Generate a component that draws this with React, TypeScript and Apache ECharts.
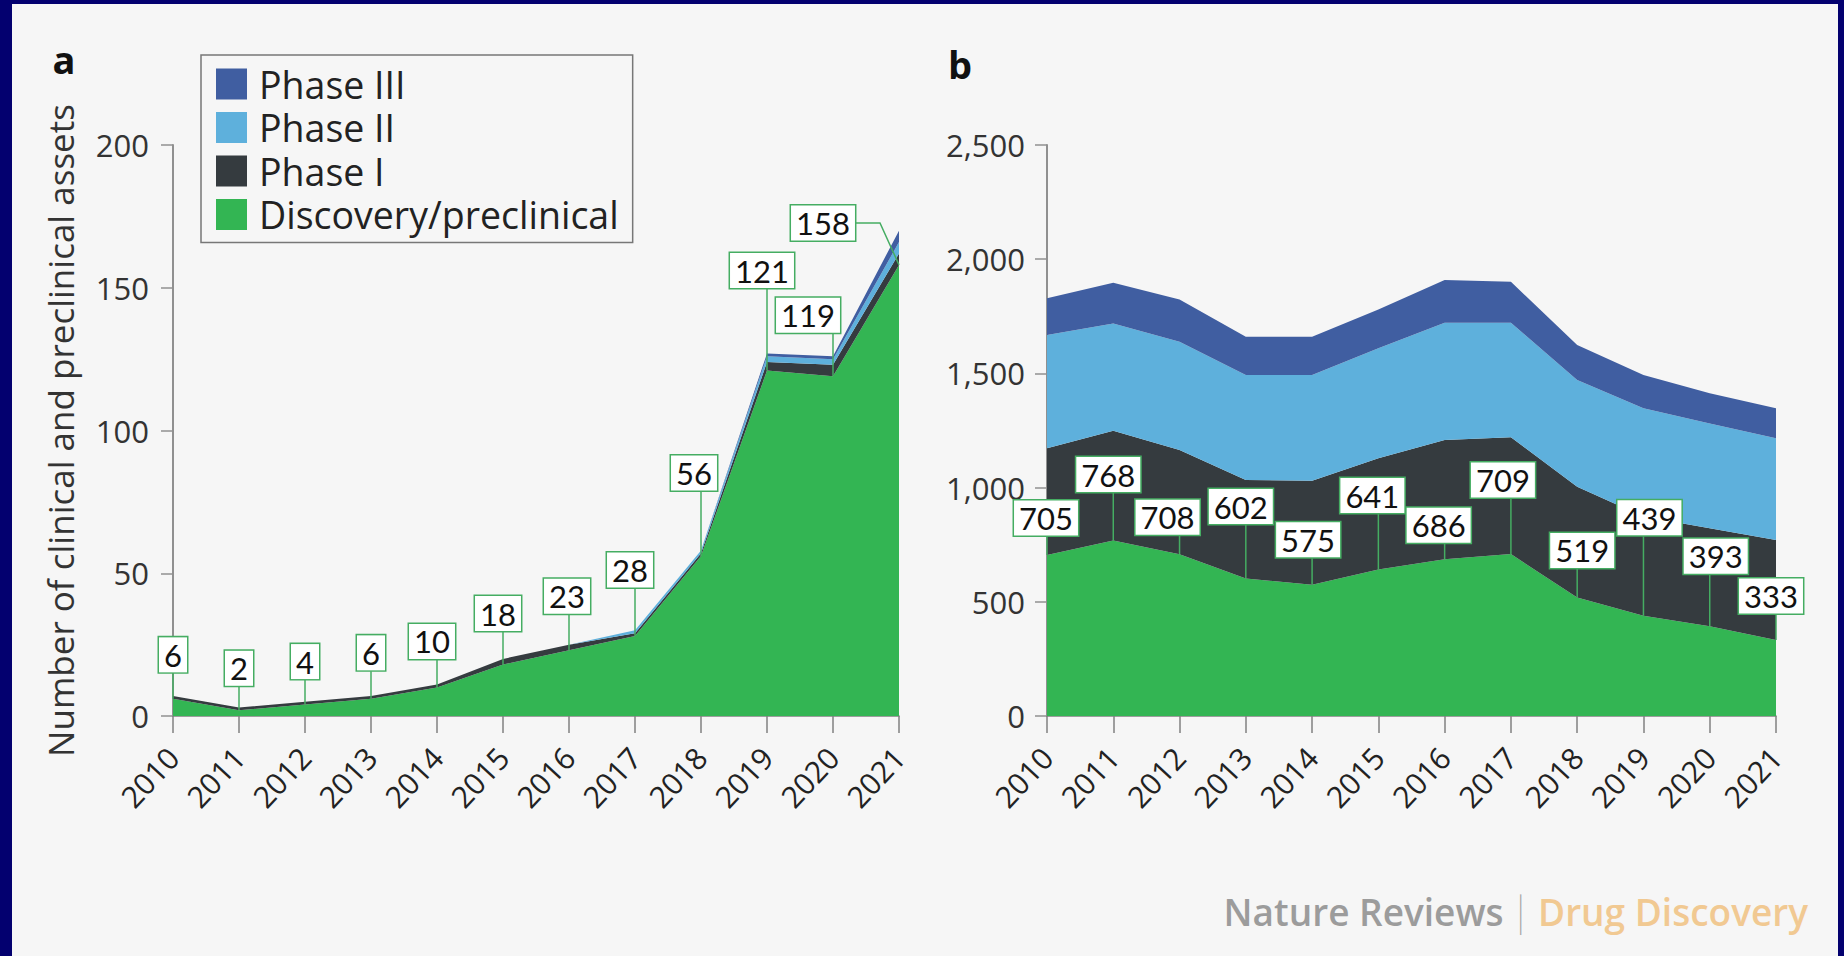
import React, { useEffect, useRef } from "react";
import * as echarts from "echarts";

const years = ["2010", "2011", "2012", "2013", "2014", "2015", "2016", "2017", "2018", "2019", "2020", "2021"];
const seriesNames = ["Discovery/preclinical", "Phase I", "Phase II", "Phase III"];

// Panel a
const aDiscovery = [6, 2, 4, 6, 10, 18, 23, 28, 56, 121, 119, 158];
const aPhase1 = [1, 1, 1, 1, 1, 2, 2, 1, 1, 3, 4, 4];
const aPhase2 = [0, 0, 0, 0, 0, 0, 0, 1, 1, 2, 2, 4];
const aPhase3 = [0, 0, 0, 0, 0, 0, 0, 0, 0, 1, 1, 4];

// Panel b
const bDiscovery = [705, 768, 708, 602, 575, 641, 686, 709, 519, 439, 393, 333];
const bPhase1 = [467, 481, 457, 431, 455, 487, 522, 511, 485, 434, 429, 438];
const bPhase2 = [496, 470, 474, 460, 463, 482, 514, 502, 467, 474, 459, 445];
const bPhase3 = [161, 178, 185, 168, 168, 170, 187, 179, 153, 146, 132, 131];

// label box placement (pixel offset of the box centre from the point)
const aLabelOffsets = [[0, -44], [0, -42], [0, -43], [0, -46], [-5, -46], [-5, -51], [-2, -54], [-5, -66], [-7, -83], [-5, -100], [-25, -61], [-76, -42]];
const bLabelOffsets = [[-1, -37], [-5, -66], [-12, -37], [-5, -72], [-4, -45], [-6, -74], [-6, -34], [-8, -74], [5, -47], [6, -98], [6, -70], [-5, -44]];

const COLORS = {
  disc: "#33b553",
  p1: "#353b3f",
  p2: "#5eb0dc",
  p3: "#405ea1",
  frame: "#03006f",
  bg: "#f6f6f6",
  leader: "#45ad62",
};

const FONT = "'Open Sans', Lato, sans-serif";
const BOXFONT = "Lato, 'Open Sans', sans-serif";

function areaSeries(name: string, data: number[], color: string, idx: number, stack: string) {
  return {
    name,
    type: "line",
    stack,
    xAxisIndex: idx,
    yAxisIndex: idx,
    data,
    symbol: "none",
    lineStyle: { width: 0 },
    areaStyle: { color, opacity: 1 },
    itemStyle: { color },
    z: 2,
  };
}

function labelSeries(idx: number, values: number[], offsets: number[][], bentIndex: number) {
  return {
    type: "custom",
    xAxisIndex: idx,
    yAxisIndex: idx,
    silent: true,
    z: 10,
    data: values.map((v, i) => [i, v]),
    renderItem: (params: any, api: any) => {
      const i = api.value(0);
      const v = api.value(1);
      const p = api.coord([i, v]);
      const off = offsets[i] || [0, -40];
      const cx = p[0] + off[0];
      const cy = p[1] + off[1];
      const txt = String(v);
      const boxW = txt.length * 17.5 + 10;
      const boxH = 37;
      let leader: any;
      if (i === bentIndex) {
        leader = {
          type: "polyline",
          shape: { points: [[cx + boxW / 2, cy], [p[0] - 19, cy], [p[0], p[1]]] },
          style: { stroke: COLORS.leader, lineWidth: 1.5, fill: null },
        };
      } else {
        leader = {
          type: "line",
          shape: { x1: p[0], y1: cy + boxH / 2, x2: p[0], y2: p[1] },
          style: { stroke: COLORS.leader, lineWidth: 1.5 },
        };
      }
      return {
        type: "group",
        children: [
          leader,
          {
            type: "text",
            x: cx,
            y: cy,
            style: {
              text: txt,
              align: "center",
              verticalAlign: "middle",
              textAlign: "center",
              textVerticalAlign: "middle",
              fontFamily: BOXFONT,
              fontSize: 31,
              fill: "#111",
              backgroundColor: "#ffffff",
              borderColor: COLORS.leader,
              borderWidth: 1.5,
              padding: [3, 5, 1, 5],
            },
          },
        ],
      };
    },
  };
}

export default function App() {
  const ref = useRef<HTMLDivElement>(null);
  useEffect(() => {
    if (!ref.current) return;
    const chart = echarts.init(ref.current, null, { renderer: "svg" });
    const xAxisBase = (gridIndex: number) => ({
      type: "category",
      gridIndex,
      data: years,
      boundaryGap: false,
      axisLine: { show: true, lineStyle: { color: "#808080", width: 1.5 } },
      axisTick: { show: true, length: 17, lineStyle: { color: "#808080", width: 1.5 } },
      axisLabel: { rotate: 47, fontSize: 30, fontFamily: FONT, color: "#222", margin: 36, interval: 0 },
    });
    const yAxisBase = (gridIndex: number, max: number, interval: number, margin: number, fmt: (v: number) => string) => ({
      type: "value",
      gridIndex,
      min: 0,
      max,
      interval,
      axisLine: { show: true, lineStyle: { color: "#909090", width: 2 } },
      axisTick: { show: true, length: 12, lineStyle: { color: "#909090", width: 1.5 } },
      axisLabel: { fontSize: 31, fontFamily: FONT, color: "#333", margin, formatter: fmt },
      splitLine: { show: false },
    });

    const option: any = {
      animation: false,
      backgroundColor: COLORS.frame,
      graphic: [
        { type: "rect", shape: { x: 12, y: 4, width: 1826, height: 960 }, style: { fill: COLORS.bg }, z: -10 },
        { type: "text", x: 64, y: 59, style: { text: "a", fontFamily: FONT, fontWeight: "bold", fontSize: 38, fill: "#111", align: "center", verticalAlign: "middle" } },
        { type: "text", x: 960, y: 64, style: { text: "b", fontFamily: FONT, fontWeight: "bold", fontSize: 38, fill: "#111", align: "center", verticalAlign: "middle" } },
        {
          type: "text",
          x: 1808,
          y: 911,
          style: {
            text: "{g|Nature Reviews} {s|\u2502} {o|Drug Discovery}",
            align: "right",
            verticalAlign: "middle",
            rich: {
              g: { fontFamily: FONT, fontWeight: 600, fontSize: 37, fill: "#9c9c9c" },
              s: { fontFamily: FONT, fontWeight: 300, fontSize: 37, fill: "#a8a8a8" },
              o: { fontFamily: FONT, fontWeight: 600, fontSize: 37, fill: "#f1c992" },
            },
          },
        },
      ],
      legend: {
        left: 201,
        top: 55,
        orient: "vertical",
        data: ["Phase III", "Phase II", "Phase I", "Discovery/preclinical"],
        icon: "rect",
        itemWidth: 31,
        itemHeight: 31,
        itemGap: 5.5,
        padding: [10, 14, 9, 15],
        borderColor: "#777",
        borderWidth: 1.5,
        backgroundColor: "rgba(0,0,0,0)",
        selectedMode: false,
        textStyle: { fontFamily: FONT, fontSize: 37.5, color: "#222", lineHeight: 35, padding: [0, 0, 0, 7] },
      },
      grid: [
        { left: 173, top: 145, width: 726, height: 571, containLabel: false },
        { left: 1047, top: 145, width: 729, height: 571, containLabel: false },
      ],
      xAxis: [xAxisBase(0), xAxisBase(1)],
      yAxis: [
        {
          ...yAxisBase(0, 200, 50, 24, (v: number) => String(v)),
          name: "Number of clinical and preclinical assets",
          nameLocation: "middle",
          nameRotate: 90,
          nameGap: 95,
          nameTextStyle: { fontFamily: FONT, fontSize: 35, color: "#333" },
        },
        yAxisBase(1, 2500, 500, 22, (v: number) => v.toLocaleString("en-US")),
      ],
      series: [
        areaSeries(seriesNames[0], aDiscovery, COLORS.disc, 0, "a"),
        areaSeries(seriesNames[1], aPhase1, COLORS.p1, 0, "a"),
        areaSeries(seriesNames[2], aPhase2, COLORS.p2, 0, "a"),
        areaSeries(seriesNames[3], aPhase3, COLORS.p3, 0, "a"),
        areaSeries(seriesNames[0], bDiscovery, COLORS.disc, 1, "b"),
        areaSeries(seriesNames[1], bPhase1, COLORS.p1, 1, "b"),
        areaSeries(seriesNames[2], bPhase2, COLORS.p2, 1, "b"),
        areaSeries(seriesNames[3], bPhase3, COLORS.p3, 1, "b"),
        labelSeries(0, aDiscovery, aLabelOffsets, 11),
        labelSeries(1, bDiscovery, bLabelOffsets, -1),
      ],
    };
    chart.setOption(option);
    return () => chart.dispose();
  }, []);
  return <div ref={ref} style={{ position: "fixed", left: 0, top: 0, width: 1844, height: 956 }} />;
}
